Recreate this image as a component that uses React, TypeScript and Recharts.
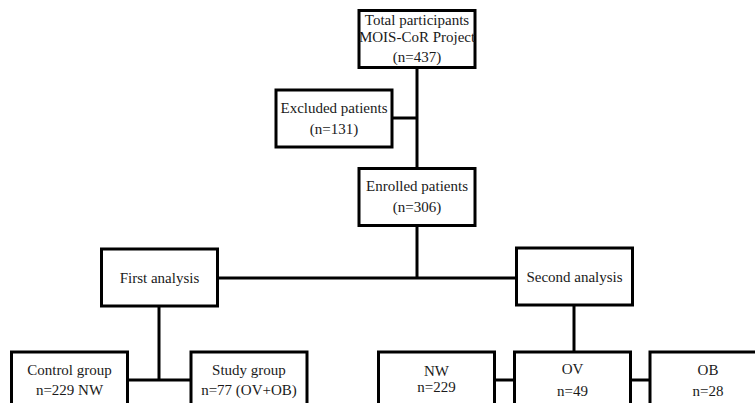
import React from "react";
import { ScatterChart, Scatter, XAxis, YAxis, ReferenceLine } from "recharts";

// Flowchart nodes: centre position in chart units (x: 0..755, y: 0..403 top-down)
const nodeIds = ["total", "excluded", "enrolled", "first", "second", "control", "study", "nw", "ov", "ob"];
const nodeX = [417, 334, 417, 159.5, 574.5, 69.5, 249, 436.5, 572.5, 708];
const nodeY = [39, 118.5, 197, 277.5, 276.5, 380.5, 380.5, 380.5, 380.5, 380.5];
const nodeText: string[][] = [
  ["Total participants", "MOIS-CoR Project", "(n=437)"],
  ["Excluded patients", "(n=131)"],
  ["Enrolled patients", "(n=306)"],
  ["First analysis"],
  ["Second analysis"],
  ["Control group", "n=229 NW"],
  ["Study group", "n=77 (OV+OB)"],
  ["NW", "n=229"],
  ["OV", "n=49"],
  ["OB", "n=28"],
];
// vertical offset of each text line from the box centre (px)
const textOffsets: number[][] = [
  [-19, -2, 18],
  [-10.5, 10.5],
  [-11, 10],
  [0],
  [0],
  [-10.5, 9],
  [-10.5, 9],
  [-9.5, 6.5],
  [-11.5, 10.5],
  [-10.5, 10.5],
];

// connectors: [x1, y1, x2, y2]
const connectors: number[][] = [
  [417, 68, 417, 168],
  [392, 118, 417, 118],
  [417, 226, 417, 278],
  [217, 278, 517, 278],
  [159, 306, 159, 380],
  [127, 380, 192, 380],
  [574, 305, 574, 352],
  [494, 380, 514, 380],
  [631, 380, 650, 380],
];

const BOX_W = 116;
const BOX_H = 57;

const data = nodeIds.map((id, i) => ({ id, x: nodeX[i], y: nodeY[i], text: nodeText[i], offs: textOffsets[i] }));

const BoxShape = (props: any) => {
  const { cx, cy, payload } = props;
  return (
    <g>
      <rect
        x={cx - BOX_W / 2}
        y={cy - BOX_H / 2}
        width={BOX_W}
        height={BOX_H}
        fill="#ffffff"
        stroke="#000000"
        strokeWidth={3}
      />
      {payload.text.map((t: string, i: number) => (
        <text
          key={i}
          x={cx}
          y={cy + payload.offs[i]}
          textAnchor="middle"
          dominantBaseline="central"
          fontFamily="'Liberation Serif', serif"
          fontSize={15}
          fill="#1a1a1a"
        >
          {t}
        </text>
      ))}
    </g>
  );
};

export default function App() {
  return (
    <div style={{ position: "absolute", left: 0, top: 0, width: 755, height: 403, background: "#fff", overflow: "hidden" }}>
      <ScatterChart width={755} height={403} margin={{ top: 0, right: 0, bottom: 0, left: 0 }}>
        <XAxis type="number" dataKey="x" domain={[0, 755]} hide allowDataOverflow />
        <YAxis type="number" dataKey="y" domain={[0, 403]} reversed hide allowDataOverflow />
        {connectors.map((c, i) => (
          <ReferenceLine
            key={i}
            segment={[{ x: c[0], y: c[1] }, { x: c[2], y: c[3] }]}
            stroke="#000000"
            strokeWidth={3}
            ifOverflow="visible"
          />
        ))}
        <Scatter data={data} shape={<BoxShape />} isAnimationActive={false} />
      </ScatterChart>
    </div>
  );
}
